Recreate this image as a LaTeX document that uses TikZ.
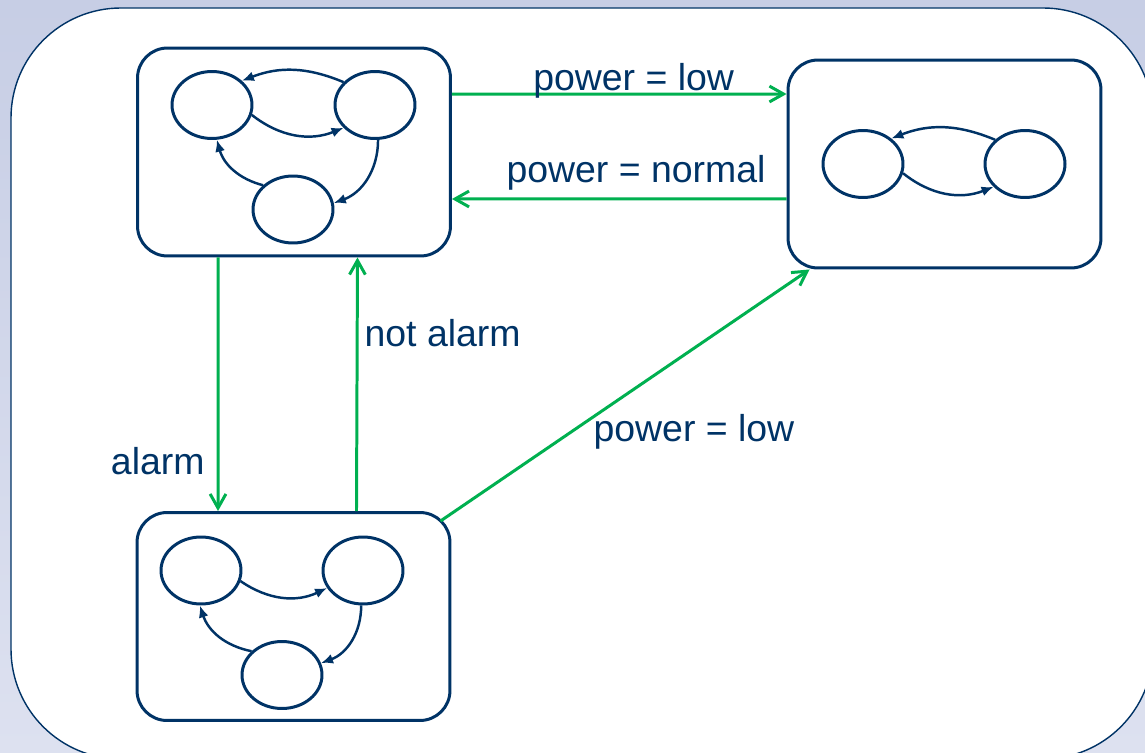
\documentclass[tikz,border=0pt]{standalone}
\usepackage{fontspec}
\setmainfont{Liberation Sans}
\usetikzlibrary{shapes.geometric,arrows.meta}
\definecolor{navy}{RGB}{0,51,102}
\definecolor{trgreen}{RGB}{0,176,80}
\definecolor{bgtop}{RGB}{199,206,229}
\definecolor{bgbot}{RGB}{221,225,240}

\begin{document}
\begin{tikzpicture}[x=0.02cm, y=-0.02cm, line join=round, font=\fontsize{21.3}{25}\selectfont, text=navy,
	modebox/.style={draw=navy, line width=1.7pt, rounded corners=0.6cm, minimum width=6.26cm, minimum height=4.16cm, inner sep=0pt},
	stnode/.style={draw=navy, line width=1.7pt, ellipse, minimum width=1.6cm, minimum height=1.34cm, inner sep=0pt},
	subarrow/.style={draw=navy, line width=1.4pt, -{Latex[length=0.24cm,width=0.2cm]}},
	transarrow/.style={draw=trgreen, line width=1.7pt, -{Straight Barb[length=8pt,width=9pt]}},
	translabel/.style={inner sep=0pt}]
	% background and frame
	\useasboundingbox (0,0) rectangle (1145,753);
	\clip (0,0) rectangle (1145,753);
	\shade[top color=bgtop, bottom color=bgbot] (0,0) rectangle (1145,753);
	\draw[navy, line width=0.8pt, fill=white, rounded corners=2.2cm] (11,8) rectangle (1153,759);
	% the three modes
	\node[modebox] (normal) at (294,152) {};
	\node[modebox] (lowpower) at (944.5,164) {};
	\node[modebox] (alarm) at (293.5,616.5) {};
	% states inside
	\node[stnode] (n1) at (212,105) {};
	\node[stnode] (n2) at (375,105) {};
	\node[stnode] (n3) at (293,209.5) {};
	\node[stnode] (l1) at (863,164) {};
	\node[stnode] (l2) at (1025,164) {};
	\node[stnode] (a1) at (201,570.5) {};
	\node[stnode] (a2) at (363,570.5) {};
	\node[stnode] (a3) at (282,675) {};
	\draw[subarrow] (n2.144) to[bend right=22] (n1.39);
	\draw[subarrow] (n1.-14) to[bend right=30] (n2.216);
	\draw[subarrow] (n2.-85) to[bend left=35] (n3.9);
	\draw[subarrow] (n3.141) to[bend left=30] (n1.-82);
	\draw[subarrow] (l2.141) to[bend right=22] (l1.42);
	\draw[subarrow] (l1.-13) to[bend right=30] (l2.216);
	\draw[subarrow] (a1.-15) to[bend right=30] (a2.206);
	\draw[subarrow] (a2.-93) to[bend left=35] (a3.17);
	\draw[subarrow] (a3.142) to[bend left=30] (a1.-92);
	% transitions between modes
	\draw[transarrow] ([yshift=1.16cm]normal.east) -- ([yshift=1.4cm]lowpower.west) node[translabel, pos=0.543, anchor=base, yshift=0.08cm] {power = low};
	\draw[transarrow] ([yshift=-0.7cm]lowpower.west) -- ([yshift=-0.94cm]normal.east) node[translabel, pos=0.45, anchor=base, yshift=0.32cm] {power = normal};
	\draw[transarrow] ([xshift=-1.52cm]normal.south) -- ([xshift=-1.51cm]alarm.north) node[translabel, pos=0.855, anchor=base east, xshift=-0.24cm] {alarm};
	\draw[transarrow] ([xshift=1.26cm]alarm.north) -- ([xshift=1.27cm]normal.south) node[translabel, pos=0.647, anchor=base west, xshift=0.12cm] {not alarm};
	\draw[transarrow] ([shift={(-0.22cm,-0.2cm)}]alarm.north east) -- ([xshift=0.46cm]lowpower.south west) node[translabel, pos=0.316, anchor=base west, xshift=0.7cm] {power = low};
\end{tikzpicture}
\end{document}
